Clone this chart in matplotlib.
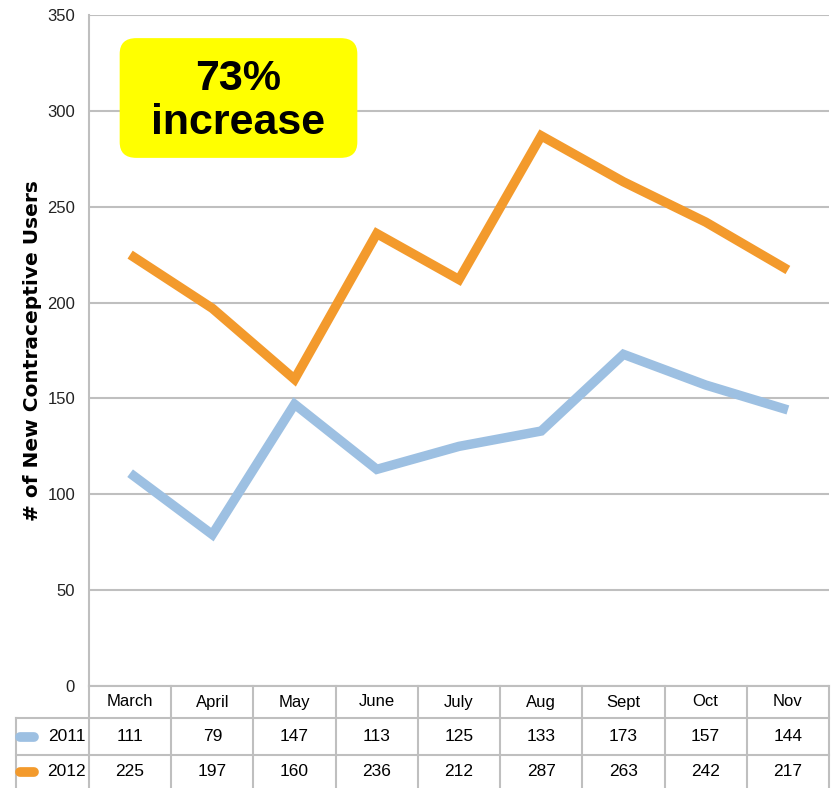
import matplotlib.pyplot as plt
from matplotlib.lines import Line2D
from matplotlib.patches import FancyBboxPatch

plt.rcParams["font.family"] = ["Liberation Sans", "DejaVu Sans"]

months = ["March", "April", "May", "June", "July", "Aug", "Sept", "Oct", "Nov"]
users_2011 = [111, 79, 147, 113, 125, 133, 173, 157, 144]
users_2012 = [225, 197, 160, 236, 212, 287, 263, 242, 217]
years = ["2011", "2012"]
colors = ["#9DC0E2", "#F39A2C"]

W, H = 834, 788
fig = plt.figure(figsize=(W / 100, H / 100), dpi=100)


def fx(px):
    return px / W


def fy(py):
    return 1 - py / H


# plot area in pixels: left 89, right 829, top 15, bottom 686
left, right, top, bottom = 89, 829, 15, 686
ax = fig.add_axes([fx(left), fy(bottom), fx(right - left), (bottom - top) / H])

x = list(range(len(months)))
for vals, c in zip([users_2011, users_2012], colors):
    ax.plot(x, vals, color=c, lw=6.8, solid_joinstyle="miter",
            solid_capstyle="butt", zorder=3)

ax.set_xlim(-0.5, len(months) - 0.5)
ax.set_ylim(0, 350)
ax.set_yticks(range(0, 351, 50))
ax.set_xticks([])
ax.grid(axis="y", color="#BFBFBF", lw=1.5)
ax.set_axisbelow(True)
for s in ["top", "right", "bottom"]:
    ax.spines[s].set_visible(False)
ax.spines["left"].set_color("#BFBFBF")
ax.spines["left"].set_linewidth(1.5)
ax.tick_params(axis="y", length=0, pad=10, labelsize=12, labelcolor="#222222")
ax.set_ylabel("# of New Contraceptive Users", fontsize=14.5, fontweight="bold",
              family="DejaVu Sans", labelpad=4)

# highlight box
box = FancyBboxPatch((fx(128), fy(150)), fx(221), (150 - 46) / H,
                     boxstyle="round,pad=0.01,rounding_size=0.02",
                     transform=fig.transFigure, facecolor="#FFFF00",
                     edgecolor="none", zorder=5)
fig.patches.append(box)
fig.text(fx(238), fy(79), "73%", ha="center", va="center", fontsize=31,
         fontweight="bold", zorder=6)
fig.text(fx(238), fy(123), "increase", ha="center", va="center", fontsize=31,
         fontweight="bold", zorder=6)

# data table under the plot
grid_kw = dict(color="#BFBFBF", lw=1.5, transform=fig.transFigure)
col_w = (right - left) / len(months)
rows = [686, 718, 755, 788]
fig.add_artist(Line2D([fx(left), fx(right)], [fy(rows[0])] * 2, **grid_kw))
for r in rows[1:3]:
    fig.add_artist(Line2D([fx(16), fx(right)], [fy(r)] * 2, **grid_kw))
fig.add_artist(Line2D([fx(16), fx(16)], [fy(rows[1]), fy(rows[3])], **grid_kw))
for i in range(len(months) + 1):
    xp = left + i * col_w
    fig.add_artist(Line2D([fx(xp)] * 2, [fy(rows[0]), fy(rows[3])], **grid_kw))

for i, m in enumerate(months):
    fig.text(fx(left + (i + 0.5) * col_w), fy((rows[0] + rows[1]) / 2), m,
             ha="center", va="center", fontsize=12)

for k, (vals, yr, c) in enumerate(zip([users_2011, users_2012], years, colors)):
    yc = (rows[k + 1] + rows[k + 2]) / 2
    fig.add_artist(Line2D([fx(20), fx(34)], [fy(yc)] * 2, color=c, lw=7,
                          solid_capstyle="round", transform=fig.transFigure))
    fig.text(fx(86), fy(yc), yr, ha="right", va="center", fontsize=12.5)
    for i, v in enumerate(vals):
        fig.text(fx(left + (i + 0.5) * col_w), fy(yc), str(v),
                 ha="center", va="center", fontsize=12.5)

fig.savefig("out.png", dpi=100)
